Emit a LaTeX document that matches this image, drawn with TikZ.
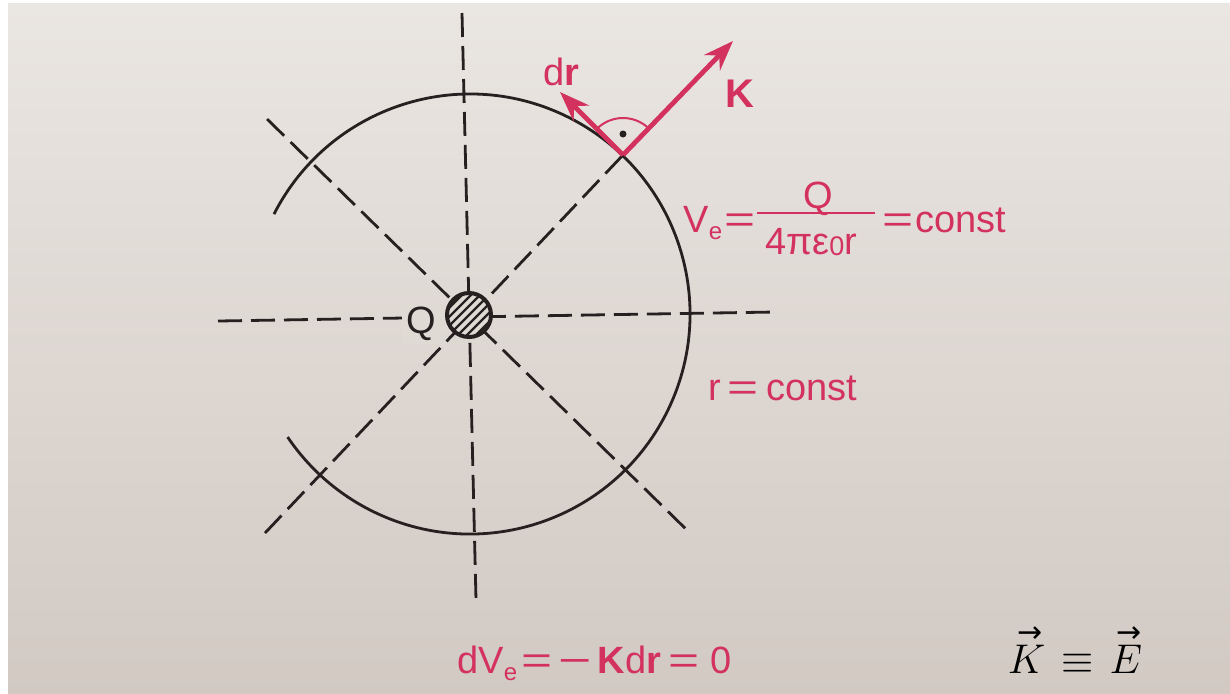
\documentclass[tikz,border=0pt]{standalone}
\usepackage{graphicx}
\usepackage{amsmath}
\usepackage{fontspec}
\newfontfamily\labfont{Liberation Sans}
\newfontfamily\djv{DejaVu Sans}
\usetikzlibrary{arrows.meta}
\definecolor{ink}{RGB}{38,32,32}
\definecolor{pinkred}{RGB}{212,50,94}
\definecolor{paperT}{RGB}{234,230,226}
\definecolor{paperB}{RGB}{210,201,195}
\definecolor{paperM}{RGB}{224,218,213}
\newcommand\lsub[2][-3.5pt]{\raisebox{#1}{\fontsize{12}{12}\selectfont #2}}
\newcommand\weq{\scalebox{1.4}[1]{=}}
\newcommand\wminus{\scalebox{1.5}[1]{−}}
\newcommand\vk[1]{\begin{tabular}[b]{@{}c@{}}\hspace*{3pt}{\djv\fontsize{15}{15}\selectfont →}\\[-10.5pt]$#1$\end{tabular}}
\begin{document}
\begin{tikzpicture}[x=0.5pt,y=-0.5pt,
  axis/.style={draw=ink, line width=1.4pt, dash pattern=on 12pt off 4.5pt},
  ring/.style={draw=ink, line width=1.4pt},
  vec/.style={draw=pinkred, line width=2.4pt, -{Stealth[length=15pt,width=11pt,inset=5pt]}},
  lab/.style={text=pinkred, font=\labfont\fontsize{19}{23}\selectfont, inner sep=0pt},
  bold lab/.style={lab, font=\labfont\bfseries\fontsize{20}{24}\selectfont},
]
\fill[white] (0,0) rectangle (1230,693);
\shade[top color=paperT, bottom color=paperB] (8,3) rectangle (1230,693);
\useasboundingbox (0,0) rectangle (1230,693);

% coordinates
\coordinate (C) at (470,314);
\coordinate (O) at (469,315);
\coordinate (vT) at (462,13);
\coordinate (vB) at (476,600);
\coordinate (hL) at (218,321);
\coordinate (hR) at (775,312);
\coordinate (d1a) at (267,119);
\coordinate (d1b) at (691,534);
\coordinate (d2a) at (265,533);
\coordinate (P) at (623,155);
\coordinate (Kt) at (733,41);
\coordinate (Dt) at (560,92);

% dashed axes
\draw[axis] (vT) -- (vB);
\draw[axis] (hL) -- (hR);
\draw[axis] (d1a) -- (d1b);
\draw[axis] (d2a) -- (P);

% equipotential circle
\draw[ring] (C) ++(207:220) arc[start angle=207,end angle=506,radius=220];

% charge
\fill[paperM] (O) circle[radius=22];
\begin{scope}
  \clip (O) circle[radius=22];
  \foreach \k in {-5,...,5}
    \draw[ink, line width=1.1pt, shift={(O)}] (\k*9-30,30) -- ++(60,-60);
\end{scope}
\draw[ink, line width=2pt] (O) circle[radius=22];
\node[lab, anchor=base, text=ink, fill=paperM, inner sep=2pt] (Qlab) at (421,333) {Q};

% vectors
\draw[vec] (P) -- (Kt);
\draw[vec] (P) -- (Dt);
\draw[pinkred, line width=1pt] (P) ++(225:37) arc[start angle=225,end angle=314,radius=37];
\fill[ink] (623,134) circle[radius=3.5];
\node[lab, anchor=base] (drlab) at (561,85) {d\textbf{r}};
\node[bold lab, anchor=base] (Klab) at (740,107) {K};

% potential formula
\node[lab, anchor=base west] (Ve) at (683,232) {V\lsub{e}\hspace{1pt}\weq};
\coordinate (fbL) at (757,213);
\coordinate (fbR) at (875,213);
\draw[pinkred, line width=1.2pt] (fbL) -- (fbR);
\node[lab, anchor=base] (num) at (818,208) {Q};
\node[lab, anchor=base] (den) at (811,254) {4πε\lsub[-0.5pt]{\fontsize{13.5}{14}\selectfont 0}r};
\node[lab, anchor=base west] (rhs) at (882,232) {\weq\hspace{1pt}const};

\node[lab, anchor=base west] (rc) at (708,400) {r\hspace{3pt}\weq\hspace{4pt}const};

% bottom
\node[lab, anchor=base west] (dv) at (457,673) {dV\lsub{e}\hspace{2pt}\weq\hspace{3pt}\wminus\hspace{3pt}\textbf{K}d\textbf{r}\hspace{4pt}\weq\hspace{5pt}0};

\node[text=black, font=\fontsize{22}{26}\selectfont, anchor=base, inner sep=0pt] (KE) at (1075,673) {\vk{K}\hspace{8pt}$\equiv$\hspace{8pt}\vk{E}};
\end{tikzpicture}
\end{document}
